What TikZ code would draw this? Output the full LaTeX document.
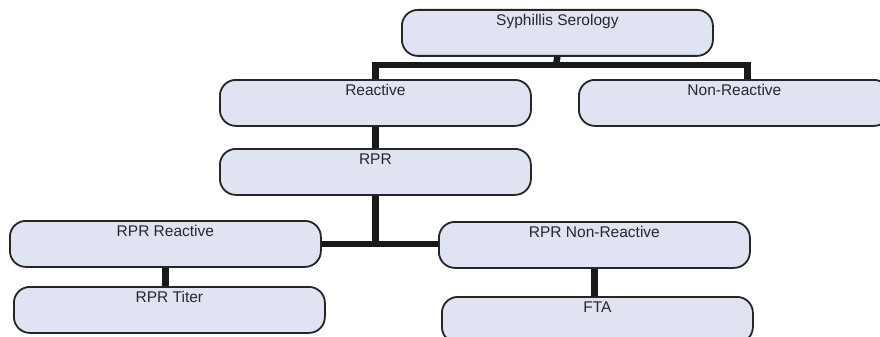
\documentclass[tikz,border=0pt]{standalone}
\usepackage{fontspec}
\setmainfont{Liberation Sans}
\definecolor{boxfill}{RGB}{223,227,242}
\definecolor{boxtext}{RGB}{40,40,40}
\tikzset{
	stage/.style={draw=black!85, line width=1.8pt, rounded corners=16pt, fill=boxfill, text=boxtext,
		anchor=north west, minimum width=311pt, inner xsep=0pt, inner ysep=3pt,
		text height=12.5pt, text depth=27.5pt, font=\fontsize{15.5pt}{18pt}\selectfont},
	trunk/.style={line width=6.5pt, draw=black!90}
}

\begin{document}
\begin{tikzpicture}[x=1pt, y=-1pt]
		\clip (0, 0) rectangle (880, 337);
		
		\node[stage] (sero) at (401, 9) {Syphillis Serology};
		\node[stage] (react) at (219, 79) {Reactive};
		\node[stage] (nonreact) at (578, 79) {Non-Reactive};
		\node[stage] (rpr) at (219, 148) {RPR};
		\node[stage] (rprr) at (9, 220) {RPR Reactive};
		\node[stage] (rprn) at (438, 221) {RPR Non-Reactive};
		\node[stage] (titer) at (13, 286) {RPR Titer};
		\node[stage] (fta) at (441, 296) {FTA};
		
		\coordinate (serojoin) at (556, 65);
		
		\draw[trunk] (sero.south) -- (serojoin);
		\draw[trunk] (react.north) |- (serojoin) -| ([xshift=13pt]nonreact.north);
		\draw[trunk] (react.south) -- (rpr.north);
		\draw[trunk] (rprr.east) -- (rprr.east -| rprn.west);
		\draw[trunk] (rpr.south) -- (rpr.south |- rprr.east);
		\draw[trunk] (rprr.south) -- (rprr.south |- titer.north);
		\draw[trunk] (rprn.south) -- (rprn.south |- fta.north);
	\end{tikzpicture}
\end{document}
